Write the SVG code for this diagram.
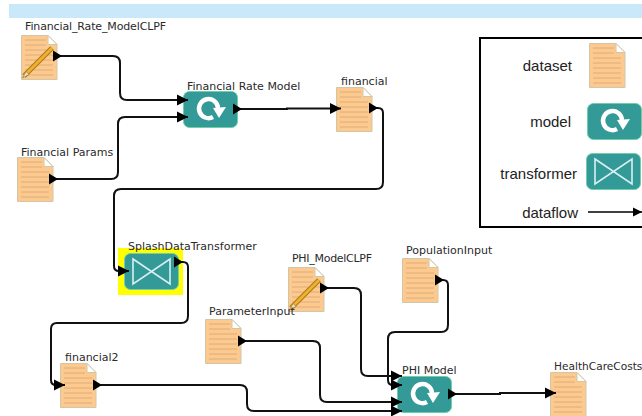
<svg xmlns="http://www.w3.org/2000/svg" width="642" height="416" viewBox="0 0 642 416">
<style>
.lbl{font-family:"DejaVu Sans",sans-serif;font-size:11px;fill:#2a2a2a}
.leg{font-family:"Liberation Sans",Arial,sans-serif;font-size:15px;fill:#222;text-anchor:end}
.conn{fill:none;stroke:#111;stroke-width:2;marker-start:url(#tail);marker-end:url(#head)}
.teal{fill:#339a98;stroke:#6fd0a8;stroke-width:1}
</style>
<defs>
<marker id="head" markerUnits="userSpaceOnUse" markerWidth="11" markerHeight="12" refX="11" refY="6" orient="auto"><path d="M0,0.500 L11,6 L0,11.500 Z" fill="#000"/></marker>
<marker id="tail" markerUnits="userSpaceOnUse" markerWidth="9" markerHeight="12" refX="0" refY="6" orient="auto"><path d="M0,0.500 L9,6 L0,11.500 Z" fill="#000"/></marker>
<g id="doc">
<path d="M0.5,0.5 H27 L36,9.5 V44.5 H0.5 Z" fill="#fdc98f" stroke="#cfc8a8" stroke-width="1"/>
<path d="M27,0.5 V9.5 H36 Z" fill="#fff" stroke="#cfc8a8" stroke-width="1"/>
<path d="M4,5H25M4,10H25M4,15H32M4,20H32M4,25H32M4,30H32M4,35H32M4,40H32" stroke="#d8b078" stroke-width="1" fill="none"/>
</g>
<g id="pencil">
<path d="M3,41 L31,13" stroke="#a87810" stroke-width="5" fill="none"/>
<path d="M3,41 L31,13" stroke="#f0b030" stroke-width="3" fill="none"/>
<path d="M1.5,43 L5,36.5 L8,39.5 Z" fill="#f5e0b0" stroke="#8a7040" stroke-width="0.6"/>
</g>
<g id="model">
<rect class="teal" x="0.5" y="0.5" width="54" height="36" rx="6"/>
<path d="M30,26 A9.500,9.500 0 1 1 35,17" fill="none" stroke="#fff" stroke-width="4.500"/>
<path d="M30,17 L43,16 L36,27 Z" fill="#fff"/>
</g>
<g id="trans">
<rect class="teal" x="0.5" y="0.5" width="54" height="36" rx="6"/>
<path d="M9,6 L46,31 V6 L9,31 Z" fill="none" stroke="#d8f0f4" stroke-width="1.6"/>
</g>
</defs>
<rect width="642" height="416" fill="#fff"/>
<rect x="9" y="4" width="633" height="14" fill="#c9e9fb"/>

<g id="legend">
<rect x="480" y="38" width="170" height="189" fill="#fff" stroke="#000" stroke-width="2"/>
<text class="leg" x="572" y="71">dataset</text>
<text class="leg" x="571" y="127">model</text>
<text class="leg" x="577" y="179">transformer</text>
<text class="leg" x="578" y="218">dataflow</text>
<use href="#doc" x="589" y="43"/>
<use href="#model" x="587" y="103"/>
<use href="#trans" x="586" y="153"/>
<path d="M588,212 H642" stroke="#000" stroke-width="1.500" fill="none"/>
<path d="M633,207.500 L642,212 L633,216.500 Z" fill="#000"/>
</g>

<g id="n1"><use href="#doc" x="21" y="35"/><use href="#pencil" x="21" y="35"/><text class="lbl" x="25" y="30" textLength="141">Financial_Rate_ModelCLPF</text></g>
<g id="n2"><use href="#doc" x="17" y="157"/><text class="lbl" x="21" y="156">Financial Params</text></g>
<g id="n3"><use href="#model" x="183" y="91"/><text class="lbl" x="187" y="90">Financial Rate Model</text></g>
<g id="n4"><use href="#doc" x="336" y="87"/><text class="lbl" x="341" y="85">financial</text></g>
<g id="n5"><rect x="118" y="248" width="65" height="47" fill="#ffff00"/><use href="#trans" x="124" y="253"/><text class="lbl" x="128" y="250">SplashDataTransformer</text></g>
<g id="n6"><use href="#doc" x="288" y="267"/><use href="#pencil" x="288" y="267"/><text class="lbl" x="292" y="262" textLength="80">PHI_ModelCLPF</text></g>
<g id="n7"><use href="#doc" x="402" y="258"/><text class="lbl" x="406" y="254">PopulationInput</text></g>
<g id="n8"><use href="#doc" x="205" y="319"/><text class="lbl" x="209" y="315">ParameterInput</text></g>
<g id="n9"><use href="#doc" x="60" y="363"/><text class="lbl" x="65" y="361">financial2</text></g>
<g id="n10"><use href="#model" x="397" y="376"/><text class="lbl" x="402" y="374">PHI Model</text></g>
<g id="n11"><use href="#doc" x="550" y="372"/><text class="lbl" x="554" y="370" style="font-size:10.600px">HealthCareCosts</text></g>

<g id="connectors">
<path class="conn" d="M53,56 H113 Q120,56 120,63 V93 Q120,100 127,100 H188"/>
<path class="conn" d="M49,179 H111 Q118,179 118,172 V124 Q118,117 125,117 H188"/>
<path class="conn" d="M233,109 H287 V108.500 H341"/>
<path class="conn" d="M369,108 H378 Q383,108 383,113 V182 Q383,189 376,189 H121 Q114,189 114,196 V266 Q114,271 119,271 H129"/>
<path class="conn" d="M174,262 H183 Q188,262 188,267 V316 Q188,323 181,323 H57 Q51,323 51,329 V380 Q51,385 56,385 H65"/>
<path class="conn" d="M93,385 H240 Q247,385 247,392 V404 Q247,411 254,411 H402"/>
<path class="conn" d="M238,341 H313 Q320,341 320,348 V395 Q320,402 327,402 H402"/>
<path class="conn" d="M320,288 H354 Q361,288 361,295 V369 Q361,376 368,376 H402"/>
<path class="conn" d="M435,280 H443 Q448,280 448,285 V325 Q448,332 441,332 H395 Q388,332 388,339 V380 Q388,385 393,385 H402"/>
<path class="conn" d="M448,394 H500 V393 H556"/>
</g>
</svg>
